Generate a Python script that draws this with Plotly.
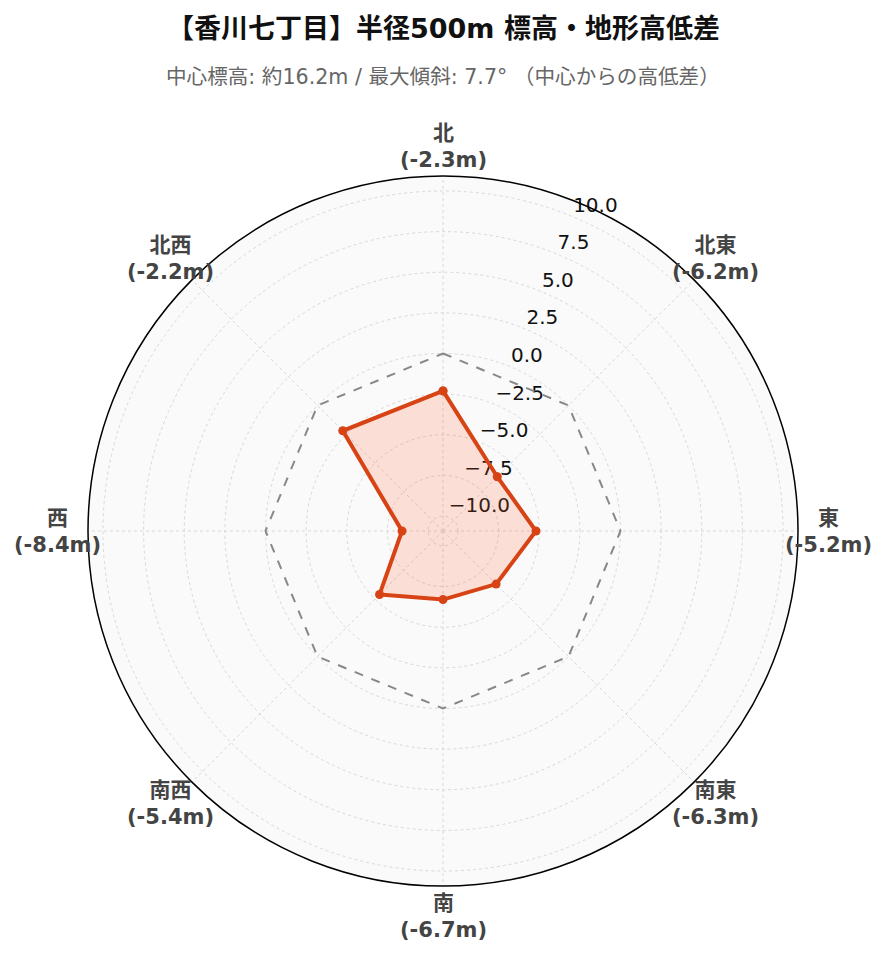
import math
import plotly.graph_objects as go

directions = ["北", "北東", "東", "南東", "南", "南西", "西", "北西"]
azimuths = [0, 45, 90, 135, 180, 225, 270, 315]
diffs = [-2.3, -6.2, -5.2, -6.3, -6.7, -5.4, -8.4, -2.2]
zero_ref = [0, 0, 0, 0, 0, 0, 0, 0]
radial_max = 10.92
radial_ticks = [-10, -7.5, -5, -2.5, 0, 2.5, 5, 7.5, 10]
radial_tick_text = ["−10.0", "−7.5", "−5.0", "−2.5", "0.0", "2.5", "5.0", "7.5", "10.0"]
radial_label_azimuth = 22.5
title_text = "【香川七丁目】半径500m 標高・地形高低差"
subtitle_text = "中心標高: 約16.2m / 最大傾斜: 7.7° （中心からの高低差）"

tick_labels = [f"<b>{d}<br>({v:.1f}m)</b>" for d, v in zip(directions, diffs)]

FONT = "DejaVu Sans, Noto Sans CJK JP, sans-serif"

fig = go.Figure()
# radial tick labels (drawn first so the data line sits above them)
fig.add_trace(go.Scatterpolar(
    r=radial_ticks, theta=[radial_label_azimuth] * len(radial_ticks),
    text=radial_tick_text, mode="text", textposition="top right",
    textfont=dict(size=20, color="#111", family=FONT),
    cliponaxis=False, hoverinfo="skip", showlegend=False))
fig.add_trace(go.Scatterpolar(
    r=zero_ref + zero_ref[:1], theta=azimuths + azimuths[:1],
    mode="lines", line=dict(color="#888888", width=2, dash="dash"),
    hoverinfo="skip", showlegend=False))
fig.add_trace(go.Scatterpolar(
    r=diffs + diffs[:1], theta=azimuths + azimuths[:1],
    mode="lines+markers", fill="toself",
    fillcolor="rgba(255,87,34,0.17)",
    line=dict(color="#D84315", width=4),
    marker=dict(color="#D84315", size=9),
    showlegend=False))

fig.update_layout(
    width=877, height=954,
    margin=dict(l=80, r=87, t=168, b=76),
    paper_bgcolor="white",
    font=dict(family=FONT, size=14, color="#000"),
    polar=dict(
        bgcolor="#fafafa",
        radialaxis=dict(range=[-radial_max, radial_max], angle=67.5,
                        tickvals=radial_ticks, showticklabels=False,
                        showline=False, ticks="",
                        gridcolor="#d8d8d8", griddash="dot"),
        angularaxis=dict(direction="clockwise", rotation=90,
                         tickvals=azimuths, showticklabels=False,
                         showline=True, linecolor="#000", linewidth=1.5,
                         gridcolor="#d8d8d8", griddash="dot", ticks=""),
    ),
)

label_r = 385 / 710
for lab, az in zip(tick_labels, azimuths):
    a = math.radians(az)
    fig.add_annotation(text=lab, xref="paper", yref="paper",
                       x=0.5 + label_r * math.sin(a), y=0.5 + label_r * math.cos(a),
                       xanchor="center", yanchor="middle", showarrow=False,
                       font=dict(size=21, color="#444"))

fig.add_annotation(text=f"<b>{title_text}</b>", xref="paper", yref="paper",
                   x=0.5, y=1 + (176 - 28) / 710, yanchor="middle", showarrow=False,
                   font=dict(size=27, color="#111"))
fig.add_annotation(text=subtitle_text, xref="paper", yref="paper",
                   x=0.5, y=1 + (176 - 77) / 710, yanchor="middle", showarrow=False,
                   font=dict(size=20.6, color="#666"))

fig.write_html("out.html")
